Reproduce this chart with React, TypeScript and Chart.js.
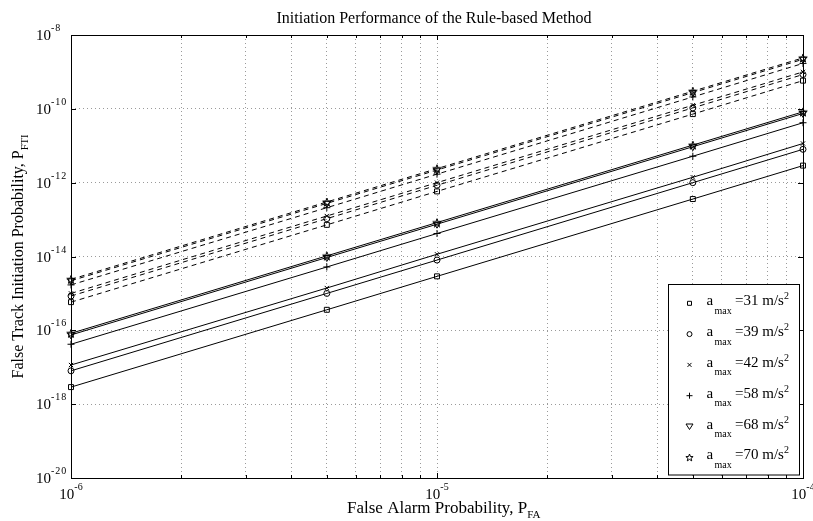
import React, { useEffect, useRef } from 'react';
import { Chart, registerables } from 'chart.js';

Chart.register(...registerables);

// ---------- data ----------
const FALSE_ALARM = [1e-6, 5e-6, 1e-5, 5e-5, 1e-4];
const A_MAX = ['31', '39', '42', '58', '68', '70'];

const SOLID_31 = [2.9e-18, 3.6e-16, 2.9e-15, 3.6e-13, 2.9e-12];
const SOLID_39 = [8.0e-18, 1.0e-15, 8.0e-15, 1.0e-12, 8.0e-12];
const SOLID_42 = [1.15e-17, 1.4e-15, 1.15e-14, 1.4e-12, 1.15e-11];
const SOLID_58 = [4.2e-17, 5.2e-15, 4.2e-14, 5.2e-12, 4.2e-11];
const SOLID_68 = [7.5e-17, 9.4e-15, 7.5e-14, 9.4e-12, 7.5e-11];
const SOLID_70 = [8.3e-17, 1.04e-14, 8.3e-14, 1.04e-11, 8.3e-11];

const DASHED_31 = [5.8e-16, 7.2e-14, 5.8e-13, 7.2e-11, 5.8e-10];
const DASHED_39 = [8.5e-16, 1.06e-13, 8.5e-13, 1.06e-10, 8.5e-10];
const DASHED_42 = [1.0e-15, 1.25e-13, 1.0e-12, 1.25e-10, 1.0e-9];
const DASHED_58 = [1.7e-15, 2.1e-13, 1.7e-12, 2.1e-10, 1.7e-9];
const DASHED_68 = [2.2e-15, 2.75e-13, 2.2e-12, 2.75e-10, 2.2e-9];
const DASHED_70 = [2.4e-15, 3.0e-13, 2.4e-12, 3.0e-10, 2.4e-9];

const X_TICKS = [
  1e-6, 2e-6, 3e-6, 4e-6, 5e-6, 6e-6, 7e-6, 8e-6, 9e-6,
  1e-5, 2e-5, 3e-5, 4e-5, 5e-5, 6e-5, 7e-5, 8e-5, 9e-5, 1e-4,
];
const X_MAJOR = [1e-6, 1e-5, 1e-4];
const Y_TICKS = [1e-20, 1e-18, 1e-16, 1e-14, 1e-12, 1e-10, 1e-8];

const TITLE = 'Initiation Performance of the Rule-based Method';
const X_TITLE = 'False Alarm Probability, P';
const X_TITLE_SUB = 'FA';
const Y_TITLE = 'False Track Initiation Probability, P';
const Y_TITLE_SUB = 'FTI';

// ---------- styles ----------
const FONT = "'Liberation Serif', 'Times New Roman', serif";
const MARKERS = ['rect', 'circle', 'crossRot', 'cross', 'triangle', 'pentagram'];
const MARKER_RADIUS = [3.5, 3, 3, 3.5, 4, 4];

function makeStar(size: number, lw: number) {
  const c = document.createElement('canvas');
  c.width = size;
  c.height = size;
  const g = c.getContext('2d')!;
  const cx = size / 2, cy = size / 2 + 0.5;
  const R = size / 2 - 0.5, r = R * 0.4;
  g.beginPath();
  for (let i = 0; i < 10; i++) {
    const ang = -Math.PI / 2 + (i * Math.PI) / 5;
    const rad = i % 2 === 0 ? R : r;
    g.lineTo(cx + rad * Math.cos(ang), cy + rad * Math.sin(ang));
  }
  g.closePath();
  g.strokeStyle = '#000';
  g.lineWidth = lw;
  g.stroke();
  return c;
}

type Part = { t: string; size: number; dy: number; ls?: number };

function partsWidth(ctx: CanvasRenderingContext2D, parts: Part[]) {
  let w = 0;
  for (const p of parts) {
    ctx.font = `${p.size}px ${FONT}`;
    (ctx as any).letterSpacing = `${p.ls || 0}px`;
    w += ctx.measureText(p.t).width;
  }
  (ctx as any).letterSpacing = '0px';
  return w;
}

function drawParts(ctx: CanvasRenderingContext2D, parts: Part[], x: number, y: number) {
  let cx = x;
  ctx.textAlign = 'left';
  ctx.textBaseline = 'alphabetic';
  ctx.fillStyle = '#000';
  for (const p of parts) {
    ctx.font = `${p.size}px ${FONT}`;
    (ctx as any).letterSpacing = `${p.ls || 0}px`;
    ctx.fillText(p.t, cx, y + p.dy);
    cx += ctx.measureText(p.t).width;
  }
  (ctx as any).letterSpacing = '0px';
}

function drawLegendMarker(ctx: CanvasRenderingContext2D, kind: string, x: number, y: number) {
  ctx.save();
  ctx.strokeStyle = '#000';
  ctx.lineWidth = 1;
  ctx.beginPath();
  const s = 2;
  if (kind === 'rect') {
    ctx.rect(x - s, y - s, 2 * s, 2 * s);
  } else if (kind === 'circle') {
    ctx.arc(x, y, 2.5, 0, Math.PI * 2);
  } else if (kind === 'crossRot') {
    ctx.moveTo(x - s, y - s); ctx.lineTo(x + s, y + s);
    ctx.moveTo(x + s, y - s); ctx.lineTo(x - s, y + s);
  } else if (kind === 'cross') {
    ctx.moveTo(x - 3, y); ctx.lineTo(x + 3, y);
    ctx.moveTo(x, y - 3); ctx.lineTo(x, y + 3);
  } else if (kind === 'triangle') {
    ctx.moveTo(x - 3.5, y - 2.5); ctx.lineTo(x + 3.5, y - 2.5); ctx.lineTo(x, y + 3); ctx.closePath();
  } else {
    for (let i = 0; i < 10; i++) {
      const ang = -Math.PI / 2 + (i * Math.PI) / 5;
      const rad = i % 2 === 0 ? 3.8 : 1.6;
      ctx.lineTo(x + rad * Math.cos(ang), y + 0.5 + rad * Math.sin(ang));
    }
    ctx.closePath();
  }
  ctx.stroke();
  ctx.restore();
}

const decorPlugin = {
  id: 'decor',
  afterDraw(chart: any) {
    const ctx: CanvasRenderingContext2D = chart.ctx;
    const { left, right, top, bottom } = chart.chartArea;
    const xs = chart.scales.x;
    const ys = chart.scales.y;
    ctx.save();

    // ticks
    ctx.strokeStyle = '#000';
    ctx.lineWidth = 1;
    ctx.beginPath();
    for (const v of Y_TICKS) {
      const py = Math.round(ys.getPixelForValue(v)) + 0.5;
      ctx.moveTo(left, py); ctx.lineTo(left + 5, py);
      ctx.moveTo(right, py); ctx.lineTo(right - 5, py);
    }
    for (const v of X_TICKS) {
      const px = Math.round(xs.getPixelForValue(v)) + 0.5;
      const len = X_MAJOR.includes(v) ? 5 : 3;
      ctx.moveTo(px, bottom); ctx.lineTo(px, bottom - len);
      ctx.moveTo(px, top); ctx.lineTo(px, top + len);
    }
    ctx.stroke();

    // frame
    ctx.strokeRect(Math.round(left) + 0.5, Math.round(top) + 0.5, Math.round(right - left), Math.round(bottom - top));

    // y tick labels
    for (const v of Y_TICKS) {
      const py = ys.getPixelForValue(v);
      const e = Math.round(Math.log10(v));
      drawParts(ctx, [
        { t: '10', size: 15, dy: 0 },
        { t: `-${Math.abs(e)}`, size: 10, dy: -9, ls: 1 },
      ], 36, py + 5);
    }
    // x tick labels
    for (const v of X_MAJOR) {
      const px = xs.getPixelForValue(v);
      const e = Math.round(Math.log10(v));
      const parts: Part[] = [
        { t: '10', size: 15, dy: 0 },
        { t: `-${Math.abs(e)}`, size: 10, dy: -9 },
      ];
      const w = partsWidth(ctx, parts);
      drawParts(ctx, parts, px - w / 2, bottom + 21);
    }

    // title
    ctx.font = `16px ${FONT}`;
    ctx.fillStyle = '#000';
    ctx.textAlign = 'center';
    ctx.textBaseline = 'alphabetic';
    ctx.fillText(TITLE, 434, 23);

    // x title
    drawParts(ctx, [
      { t: X_TITLE, size: 17, dy: 0 },
      { t: X_TITLE_SUB, size: 11, dy: 5 },
    ], 347, 513);

    // y title
    const yParts: Part[] = [
      { t: Y_TITLE, size: 16, dy: 0 },
      { t: Y_TITLE_SUB, size: 10.5, dy: 5 },
    ];
    const yw = partsWidth(ctx, yParts);
    ctx.save();
    ctx.translate(22.5, (top + bottom) / 2);
    ctx.rotate(-Math.PI / 2);
    drawParts(ctx, yParts, -yw / 2, 0);
    ctx.restore();

    // legend
    const bx = 668.5, by = 284.5, bw = 131, bh = 190.5;
    ctx.fillStyle = '#fff';
    ctx.fillRect(bx, by, bw, bh);
    ctx.strokeStyle = '#000';
    ctx.lineWidth = 1;
    ctx.strokeRect(bx, by, bw, bh);
    for (let i = 0; i < A_MAX.length; i++) {
      const my = 303.3 + i * 30.8;
      drawLegendMarker(ctx, MARKERS[i], 689.5, my);
      drawParts(ctx, [{ t: 'a', size: 15, dy: 0 }], 706.5, my + 2);
      drawParts(ctx, [{ t: 'max', size: 10, dy: 0 }], 714.5, my + 10.5);
      drawParts(ctx, [
        { t: `=${A_MAX[i]} m/s`, size: 15, dy: 0 },
        { t: '2', size: 10, dy: -6 },
      ], 735, my + 2);
    }
    ctx.restore();
  },
};

export default function App() {
  const ref = useRef<HTMLCanvasElement | null>(null);
  useEffect(() => {
    if (!ref.current) return;
    const star = makeStar(10, 1);
    const solid = [SOLID_31, SOLID_39, SOLID_42, SOLID_58, SOLID_68, SOLID_70];
    const dashed = [DASHED_31, DASHED_39, DASHED_42, DASHED_58, DASHED_68, DASHED_70];
    const mk = (vals: number[], i: number, dash: number[]) => ({
      label: `a_max=${A_MAX[i]}`,
      data: FALSE_ALARM.map((x, k) => ({ x, y: vals[k] })),
      borderColor: '#000',
      borderWidth: 1,
      borderDash: dash,
      backgroundColor: 'transparent',
      pointStyle: MARKERS[i] === 'pentagram' ? star : MARKERS[i],
      pointRotation: MARKERS[i] === 'triangle' ? 180 : 0,
      pointRadius: MARKER_RADIUS[i],
      pointBorderColor: '#000',
      pointBackgroundColor: 'transparent',
      pointBorderWidth: 1,
      fill: false,
      tension: 0,
      clip: false,
    });
    const datasets = [
      ...solid.map((v, i) => mk(v, i, [])),
      ...dashed.map((v, i) => mk(v, i, [5, 4])),
    ];
    const chart = new Chart(ref.current, {
      type: 'line',
      data: { datasets },
      options: {
        animation: false,
        responsive: false,
        maintainAspectRatio: false,
        events: [],
        layout: { padding: { left: 71, right: 10, top: 35, bottom: 43 } },
        plugins: {
          legend: { display: false },
          title: { display: false },
          tooltip: { enabled: false },
        },
        scales: {
          x: {
            type: 'logarithmic',
            min: 1e-6,
            max: 1e-4,
            afterBuildTicks: (s: any) => { s.ticks = X_TICKS.map((value) => ({ value })); },
            ticks: { display: false },
            grid: { color: '#9a9a9a', lineWidth: 1, drawTicks: false },
            border: { display: false, dash: [1, 3] },
          },
          y: {
            type: 'logarithmic',
            min: 1e-20,
            max: 1e-8,
            afterBuildTicks: (s: any) => { s.ticks = Y_TICKS.map((value) => ({ value })); },
            ticks: { display: false },
            grid: { color: '#9a9a9a', lineWidth: 1, drawTicks: false },
            border: { display: false, dash: [1, 3] },
          },
        },
      } as any,
      plugins: [decorPlugin],
    });
    return () => chart.destroy();
  }, []);
  return (
    <div style={{ position: 'fixed', left: 0, top: 0, width: 813, height: 521, background: '#fff' }}>
      <canvas ref={ref} width={813} height={521} style={{ display: 'block' }} />
    </div>
  );
}
